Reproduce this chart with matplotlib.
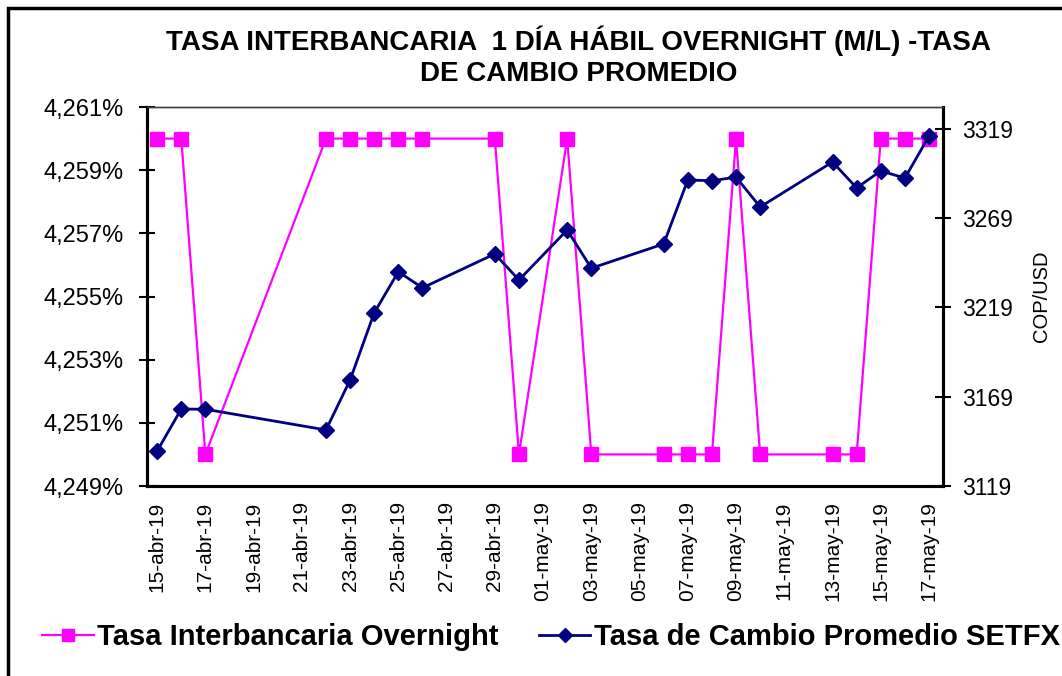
import numpy as np
import pandas as pd
import matplotlib
matplotlib.use("Agg")
import matplotlib.pyplot as plt
import matplotlib.dates as mdates
from matplotlib.ticker import FuncFormatter, FixedLocator

plt.rcParams['font.family'] = ['Liberation Sans', 'DejaVu Sans']

# datos
fechas = ["2019-04-15", "2019-04-16", "2019-04-17", "2019-04-22", "2019-04-23",
          "2019-04-24", "2019-04-25", "2019-04-26", "2019-04-29", "2019-04-30",
          "2019-05-02", "2019-05-03", "2019-05-06", "2019-05-07", "2019-05-08",
          "2019-05-09", "2019-05-10", "2019-05-13", "2019-05-14", "2019-05-15",
          "2019-05-16", "2019-05-17"]
overnight = [4.260, 4.260, 4.250, 4.260, 4.260, 4.260, 4.260, 4.260, 4.260, 4.250,
             4.260, 4.250, 4.250, 4.250, 4.250, 4.260, 4.250, 4.250, 4.250, 4.260,
             4.260, 4.260]
trm = [3138.6, 3162.1, 3162.0, 3150.4, 3178.4, 3216.0, 3239.0, 3230.0, 3249.0, 3234.4,
       3262.4, 3241.0, 3254.6, 3290.4, 3290.0, 3292.0, 3275.3, 3300.5, 3286.0, 3295.5,
       3291.5, 3315.0]

meses = ["ene", "feb", "mar", "abr", "may", "jun", "jul", "ago", "sep", "oct", "nov", "dic"]

fechas = pd.to_datetime(fechas)
x = mdates.date2num(fechas)

fig = plt.figure(figsize=(10.62, 6.76), dpi=100)
ax = fig.add_axes([147/1062, 1-486/676, (943-147)/1062, (486-107)/676])
ax2 = ax.twinx()

l1, = ax.plot(x, overnight, color="#FF00FF", lw=1.6, marker="s", ms=10,
              label="Tasa Interbancaria Overnight")
l2, = ax2.plot(x, trm, color="#000080", lw=2.0, marker="D", ms=8,
               label="Tasa de Cambio Promedio SETFX")

ax.set_xlim(x[0] - 0.42, x[-1] + 0.58)
ax.set_ylim(4.249, 4.261)
ax2.set_ylim(3119, 3331.3)

ax.yaxis.set_major_locator(FixedLocator([4.249, 4.251, 4.253, 4.255, 4.257, 4.259, 4.261]))
ax.yaxis.set_major_formatter(FuncFormatter(lambda v, p: f"{v:.3f}%".replace(".", ",")))
ax2.yaxis.set_major_locator(FixedLocator([3119, 3169, 3219, 3269, 3319]))

ticks = mdates.date2num(pd.date_range("2019-04-15", "2019-05-17", freq="2D"))
ax.xaxis.set_major_locator(FixedLocator(ticks))
def fmt_fecha(v, p):
    d = mdates.num2date(v)
    return f"{d.day:02d}-{meses[d.month-1]}-{d.strftime('%y')}"
ax.xaxis.set_major_formatter(FuncFormatter(fmt_fecha))

ax.tick_params(axis="x", length=0, pad=11, labelsize=15, labelrotation=90)
ax.tick_params(axis="y", direction="inout", length=11, width=1.5, pad=11, labelsize=17)
ax2.tick_params(axis="y", direction="inout", length=11, width=1.5, pad=8, labelsize=16.5)
ax2.set_ylabel("COP/USD", fontsize=14.5, labelpad=14)

for a in (ax, ax2):
    for s in ("left", "bottom", "right"):
        a.spines[s].set_linewidth(2.2)
    a.spines["top"].set_linewidth(1.0)
    a.spines["top"].set_color("#404040")

fig.text(0.545, 0.917, "TASA INTERBANCARIA  1 DÍA HÁBIL OVERNIGHT (M/L) -TASA\nDE CAMBIO PROMEDIO",
         ha="center", va="center", fontsize=20, fontweight="bold", linespacing=1.25)

fig.legend(handles=[l1, l2], loc="center left", bbox_to_anchor=(0.04, 1-637/676),
           ncol=2, frameon=False, handlelength=1.75, handletextpad=0.12,
           columnspacing=1.4, prop={"weight": "bold", "size": 21}, markerscale=0.85,
           borderaxespad=0, borderpad=0)

# marco de la figura
fig.patches.append(plt.Rectangle((8/1062, -0.1), 1.2, 1-8/676+0.1, transform=fig.transFigure,
                                 fill=False, lw=2.5, edgecolor="black"))

fig.savefig("out.png", dpi=100)
